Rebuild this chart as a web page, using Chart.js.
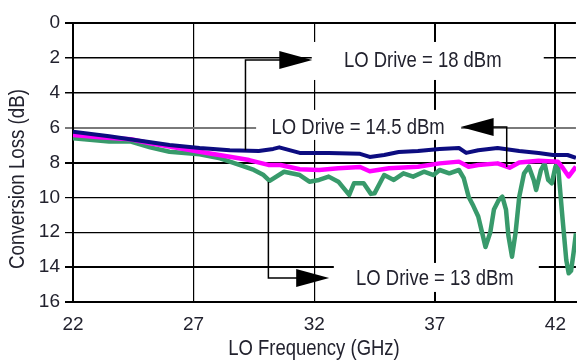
<!DOCTYPE html>
<html>
<head>
<meta charset="utf-8">
<script src="https://cdn.jsdelivr.net/npm/chart.js@4.4.1/dist/chart.umd.min.js"></script>
<style>
  body { margin: 0; background: #fff; }
  canvas { display: block; }
</style>
</head>
<body>
<canvas id="chart" width="577" height="364"></canvas>
<script>
// tick values
const xTicks = [22, 27, 32, 37, 42];
const yTicks = [0, 2, 4, 6, 8, 10, 12, 14, 16];

// LO Drive = 18 dBm
const freq18 = [22, 23.5, 25, 26, 27.25, 28.5, 29.7, 30.3, 30.55, 31.4, 32.6, 33.9, 34.3, 34.9, 35.5, 36.3, 37.2, 38.0, 38.3, 38.8, 39.6, 40.5, 41.3, 41.9, 42.5, 42.85];
const loss18 = [6.23, 6.5, 6.8, 7.0, 7.17, 7.3, 7.34, 7.22, 7.13, 7.45, 7.45, 7.5, 7.68, 7.57, 7.4, 7.34, 7.22, 7.17, 7.45, 7.3, 7.17, 7.34, 7.45, 7.57, 7.57, 7.74];

// LO Drive = 14.5 dBm
const freq145 = [22, 23.1, 24.4, 25.2, 26.0, 27.25, 28.5, 29.3, 30.1, 30.6, 31.4, 32.2, 33.0, 33.9, 34.3, 35.1, 36.3, 37.2, 38.0, 38.4, 38.8, 39.6, 40.1, 40.5, 41.3, 42.1, 42.3, 42.55, 42.85];
const loss145 = [6.42, 6.55, 6.67, 6.9, 7.09, 7.38, 7.67, 7.86, 8.14, 8.14, 8.39, 8.43, 8.33, 8.26, 8.5, 8.33, 8.24, 8.05, 7.95, 8.24, 8.14, 8.05, 8.3, 8.0, 7.9, 7.95, 8.3, 8.8, 8.24];

// LO Drive = 13 dBm
const freq13 = [22, 23.5, 24.4, 25.2, 26.0, 27.25, 28.1, 28.9, 29.5, 29.9, 30.15, 30.75, 31.4, 31.8, 32.2, 32.6, 33.0, 33.45, 33.65, 34.05, 34.35, 34.5, 34.9, 35.3, 35.7, 36.1, 36.55, 36.95, 37.2, 37.6, 38.0, 38.2, 38.4, 38.6, 38.8, 39.0, 39.1, 39.3, 39.45, 39.65, 39.8, 39.95, 40.05, 40.2, 40.35, 40.5, 40.7, 40.9, 41.1, 41.2, 41.4, 41.55, 41.7, 41.85, 42.0, 42.1, 42.3, 42.45, 42.55, 42.65, 42.75, 42.85];
const loss13 = [6.61, 6.8, 6.8, 7.13, 7.38, 7.53, 7.76, 8.14, 8.43, 8.72, 9.05, 8.53, 8.72, 9.1, 9.0, 8.81, 9.1, 9.86, 9.19, 9.19, 9.8, 9.77, 8.72, 9.0, 8.62, 8.81, 8.53, 8.72, 8.43, 8.62, 8.43, 8.9, 9.96, 10.5, 11.1, 12.25, 12.85, 12.0, 10.7, 10.15, 9.96, 10.7, 12.2, 13.4, 12.0, 9.96, 8.62, 8.24, 9.0, 9.58, 8.43, 8.05, 9.0, 9.19, 8.24, 8.05, 11.3, 13.6, 14.35, 14.2, 13.2, 12.06];

// callout labels: where the leader leaves the curve, the row it runs along, arrow tip and text centre
const callouts = [
    { text: 'LO Drive = 18 dBm', stemFreq: 29.15, stemLoss: 7.3, rowLoss: 2.12, tipFreq: 31.92, textFreq: 36.5, box: [-111, -18, 121, 20] },
    { text: 'LO Drive = 14.5 dBm', stemFreq: 39.98, stemLoss: 8.26, rowLoss: 5.96, tipFreq: 38.07, textFreq: 33.82, box: [-102, -17, 103, 13] },
    { text: 'LO Drive = 13 dBm', stemFreq: 30.1, stemLoss: 9.12, rowLoss: 14.62, tipFreq: 32.62, textFreq: 37.0, box: [-101, -15, 104, 14] },
];

const FONT = "'Liberation Sans', Arial, sans-serif";
const TEXT = '#22222e';

function toPoints(xs, ys) {
    return xs.map((v, i) => ({ x: v, y: ys[i] }));
}

// condensed look: squeeze a normal sans horizontally
function narrowText(ctx, text, x, y, size, squeeze, angle) {
    ctx.save();
    ctx.translate(x, y);
    if (angle) ctx.rotate(angle);
    ctx.scale(squeeze, 1);
    ctx.font = size + 'px ' + FONT;
    ctx.textAlign = 'center';
    ctx.textBaseline = 'middle';
    ctx.fillText(text, 0, 0);
    ctx.restore();
}

const overlay = {
    id: 'overlay',
    beforeDatasetsDraw(chart) {
        const { ctx, scales: { x, y } } = chart;
        ctx.save();
        ctx.fillStyle = '#fff';
        callouts.forEach(c => {
            const cx = x.getPixelForValue(c.textFreq);
            const cy = y.getPixelForValue(c.rowLoss);
            ctx.fillRect(cx + c.box[0], cy + c.box[1], c.box[2] - c.box[0], c.box[3] - c.box[1]);
        });
        ctx.restore();
    },
    afterDatasetsDraw(chart) {
        const { ctx, scales: { x, y } } = chart;
        ctx.save();
        ctx.strokeStyle = '#000';
        ctx.lineWidth = 1.5;
        callouts.forEach(c => {
            const sx = x.getPixelForValue(c.stemFreq);
            const sy = y.getPixelForValue(c.stemLoss);
            const ry = y.getPixelForValue(c.rowLoss);
            const tx = x.getPixelForValue(c.tipFreq);
            const dir = tx > sx ? 1 : -1;
            ctx.fillStyle = '#000';
            ctx.beginPath();
            ctx.moveTo(sx, sy);
            ctx.lineTo(sx, ry);
            ctx.lineTo(tx - dir * 20, ry);
            ctx.stroke();
            // arrow head
            ctx.beginPath();
            ctx.moveTo(tx, ry);
            ctx.lineTo(tx - dir * 33, ry - 9);
            ctx.lineTo(tx - dir * 33, ry + 9);
            ctx.closePath();
            ctx.fill();
            // label
            ctx.fillStyle = TEXT;
            narrowText(ctx, c.text, x.getPixelForValue(c.textFreq), ry + 1, 22, 0.84);
        });

        // axis titles
        ctx.fillStyle = TEXT;
        narrowText(ctx, 'LO Frequency (GHz)', 314, 349, 22, 0.84);
        narrowText(ctx, 'Conversion Loss (dB)', 18, 179, 22, 0.85, -Math.PI / 2);
        ctx.restore();
    },
};

const yGridWidth = { 0: 2, 2: 1.5, 4: 1.5, 6: 2, 8: 2, 10: 1.2, 12: 1.2, 14: 2, 16: 2 };
const xGridWidth = { 22: 2, 27: 1.2, 32: 1.2, 37: 2, 42: 2 };

Chart.defaults.font.family = FONT;
Chart.defaults.color = TEXT;

new Chart(document.getElementById('chart').getContext('2d'), {
    type: 'line',
    data: {
        datasets: [
            { label: 'LO Drive = 18 dBm', data: toPoints(freq18, loss18), borderColor: '#0c0c80', borderWidth: 4 },
            { label: 'LO Drive = 14.5 dBm', data: toPoints(freq145, loss145), borderColor: '#ff00ff', borderWidth: 4.5 },
            { label: 'LO Drive = 13 dBm', data: toPoints(freq13, loss13), borderColor: '#389a6b', borderWidth: 4.5 },
        ],
    },
    options: {
        responsive: false,
        animation: false,
        layout: { padding: { top: 23, right: 0, left: 0, bottom: 0 } },
        elements: { point: { radius: 0 }, line: { tension: 0, borderJoinStyle: 'round' } },
        plugins: { legend: { display: false }, tooltip: { enabled: false } },
        scales: {
            x: {
                type: 'linear',
                min: 22,
                max: 42.85,
                afterBuildTicks: scale => { scale.ticks = xTicks.map(v => ({ value: v })); },
                afterFit: scale => { scale.height = 62; },
                ticks: { font: { size: 19 }, padding: 11, maxRotation: 0 },
                grid: {
                    color: '#000',
                    lineWidth: ctx => xGridWidth[ctx.tick && ctx.tick.value] || 1,
                    drawTicks: false,
                },
                border: { color: '#000', width: 2 },
            },
            y: {
                type: 'linear',
                reverse: true,
                min: 0,
                max: 16,
                afterBuildTicks: scale => { scale.ticks = yTicks.map(v => ({ value: v })); },
                afterFit: scale => { scale.width = 73; },
                ticks: { font: { size: 19 }, padding: 5 },
                grid: {
                    color: ctx => (ctx.tick && ctx.tick.value === 6 ? '#7a7a7a' : '#000'),
                    lineWidth: ctx => yGridWidth[ctx.tick && ctx.tick.value] || 1,
                    tickLength: 8,
                },
                border: { color: '#000', width: 2 },
            },
        },
    },
    plugins: [overlay],
});
</script>
</body>
</html>
